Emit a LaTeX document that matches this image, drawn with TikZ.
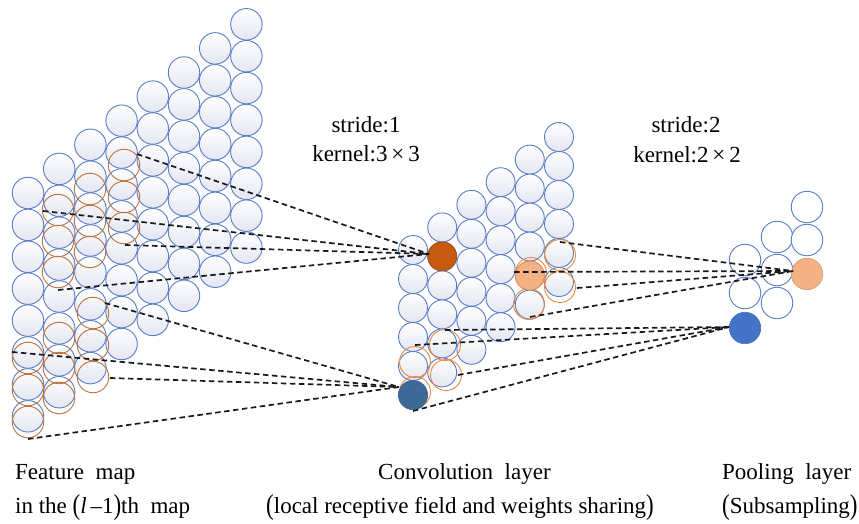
\documentclass[tikz,border=0pt]{standalone}
\usepackage{fontspec}
\setmainfont{Liberation Serif}
\usepackage{graphicx}
\definecolor{circblue}{RGB}{88,124,200}
\definecolor{shadebot}{RGB}{228,230,241}
\definecolor{fmorange}{RGB}{188,112,60}
\definecolor{cvorange}{RGB}{240,135,60}
\definecolor{darkorange}{RGB}{197,90,17}
\definecolor{steelblue}{RGB}{62,105,150}
\definecolor{poolblue}{RGB}{68,114,196}
\definecolor{lightorange}{RGB}{244,177,131}
\newcommand\bigpar[1]{\raisebox{-0.12ex}{\scalebox{1}[1.25]{#1}}}
\begin{document}
\begin{tikzpicture}[x=1pt,y=-1pt,
  fcirc/.style={circle,inner sep=0pt,minimum size=31.5pt,draw=circblue,line width=0.9pt,top color=white,bottom color=shadebot},
  ccirc/.style={fcirc,minimum size=29pt},
  pcirc/.style={fcirc,minimum size=31.5pt,top color=white,bottom color=white},
  forange/.style={circle,inner sep=0pt,minimum size=31.5pt,draw=fmorange,line width=0.9pt},
  corange/.style={circle,inner sep=0pt,minimum size=31pt,draw=cvorange,line width=0.9pt},
  filled/.style={circle,inner sep=0pt,minimum size=#1,line width=0.6pt},
  dline/.style={draw={rgb,255:red,25;green,25;blue,25},line width=1.7pt,dash pattern=on 5.5pt off 3.5pt},
  lbl/.style={inner sep=0pt,font=\fontsize{23}{26}\selectfont}]
\useasboundingbox (0,0) rectangle (859,523);

% feature map 8x8
\foreach \i in {0,...,7}{\foreach \j in {0,...,7}{
  \node[fcirc] (f\i\j) at ({28+31.2*\i},{193-24.1*\i+31.9*\j}) {};}}
% receptive field 1
\node[forange] (ra1) at (58,210) {};
\node[forange] (ra2) at (58,241) {};
\node[forange] (ra3) at (58,272) {};
\node[forange] (ra4) at (90,189) {};
\node[forange] (ra5) at (90,221) {};
\node[forange] (ra6) at (90,252) {};
\node[forange] (ra7) at (124,165) {};
\node[forange] (ra8) at (124,197) {};
\node[forange] (ra9) at (124,228) {};
% receptive field 2
\node[forange] (rb1) at (28,358) {};
\node[forange] (rb2) at (28,390) {};
\node[forange] (rb3) at (28,422) {};
\node[forange] (rb4) at (59,338) {};
\node[forange] (rb5) at (59,368) {};
\node[forange] (rb6) at (59,398) {};
\node[forange] (rb7) at (93,313) {};
\node[forange] (rb8) at (93,345) {};
\node[forange] (rb9) at (93,377) {};

% convolution layer 6x6
\foreach \i in {0,...,5}{\foreach \j in {0,...,5}{
  \node[ccirc] (c\i\j) at ({413+29.2*\i},{250-22.6*\i+29*\j}) {};}}
\node[corange] (qa1) at (531,273) {};
\node[corange] (qa2) at (560,255) {};
\node[corange] (qa3) at (560,287) {};
\node[corange] (qa4) at (529,304) {};
\node[corange] (qb1) at (415,362) {};
\node[corange] (qb2) at (445,345) {};
\node[corange] (qb3) at (415,392) {};
\node[corange] (qb4) at (446,375) {};
\node[filled=29pt,fill=darkorange,draw=darkorange!85!black] (cA) at (c11) {};
\node[filled=29pt,fill=steelblue,draw=steelblue] (cB) at (c05) {};
\node[filled=29pt,fill=lightorange,draw=cvorange] (cC) at (c44) {};

% pooling layer
\node[pcirc] (p00) at (745,260) {};
\node[pcirc] (p01) at (745,293) {};
\node[pcirc] (p10) at (777,237) {};
\node[pcirc] (p11) at (777,270) {};
\node[pcirc] (p12) at (777,303) {};
\node[pcirc] (p20) at (807,207) {};
\node[pcirc] (p21) at (807,240) {};
\node[filled=31.5pt,fill=lightorange,draw=lightorange!85!black] (pA) at (807,274) {};
\node[filled=31.5pt,fill=poolblue,draw=poolblue] (pB) at (745,328) {};

% start points of connectors
\coordinate (l1) at (137,154);
\coordinate (l2) at (43,211);
\coordinate (l3) at (125,245);
\coordinate (l4) at (58,290);
\coordinate (l5) at (105,303);
\coordinate (l6) at (12,352);
\coordinate (l7) at (110,378);
\coordinate (l8) at (28,439);
\coordinate (m1) at (560,242);
\coordinate (m2) at (514,272);
\coordinate (m3) at (577,288);
\coordinate (m4) at (530,317);
\coordinate (n1) at (445,330);
\coordinate (n2) at (415,345);
\coordinate (n3) at (458,375);
\coordinate (n4) at (413,411);
\coordinate (eA) at (429,254);
\coordinate (eB) at (399,387);
\coordinate (eC) at (793,271);
\coordinate (eD) at (729,327);

\foreach \s in {l1,l2,l3,l4}{\draw[dline] (\s) -- (eA);}
\foreach \s in {l5,l6,l7,l8}{\draw[dline] (\s) -- (eB);}
\foreach \s in {m1,m2,m3,m4}{\draw[dline] (\s) -- (eC);}
\foreach \s in {n1,n2,n3,n4}{\draw[dline] (\s) -- (eD);}

% labels
\node[lbl,anchor=base] (s1) at (366,132) {stride:1};
\node[lbl,anchor=base] (k1) at (366,161) {kernel:3\,×\,3};
\node[lbl,anchor=base] (s2) at (686,132) {stride:2};
\node[lbl,anchor=base] (k2) at (687,162) {kernel:2\,×\,2};
\node[lbl,anchor=base west] (t1) at (15,479) {Feature\ \ map};
\node[lbl,anchor=base west] (t2) at (15,513) {in the \bigpar{(}\textit{l}\,–1\bigpar{)}th\ \ map};
\node[lbl,anchor=base west] (t3) at (378,479) {Convolution\ \ layer};
\node[lbl,anchor=base west] (t4) at (266,513) {\bigpar{(}local receptive field and weights sharing\bigpar{)}};
\node[lbl,anchor=base west] (t5) at (722,479) {Pooling\ \ layer};
\node[lbl,anchor=base west] (t6) at (722,513) {\bigpar{(}Subsampling\bigpar{)}};
\end{tikzpicture}
\end{document}
